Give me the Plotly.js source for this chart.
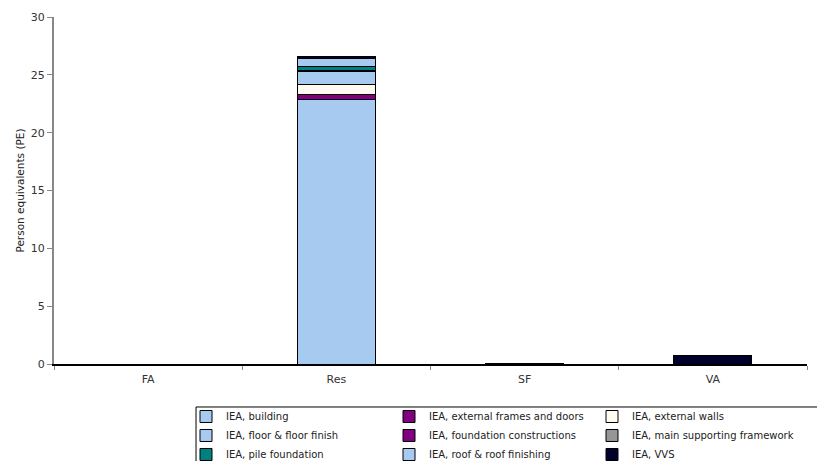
<!DOCTYPE html>
<html>
<head>
<meta charset="utf-8">
<script src="https://cdn.plot.ly/plotly-3.0.1.min.js"></script>
<style>html,body{margin:0;padding:0;background:#fff;}#chart{width:817px;height:461px;}</style>
</head>
<body>
<div id="chart"></div>
<script>
var categories = ['FA', 'Res', 'SF', 'VA'];
var seriesNames = ['IEA, building', 'IEA, external frames and doors', 'IEA, external walls',
  'IEA, floor & floor finish', 'IEA, foundation constructions', 'IEA, main supporting framework',
  'IEA, pile foundation', 'IEA, roof & roof finishing', 'IEA, VVS'];
var building    = [0, 22.9, 0, 0];
var extFrames   = [0, 0.4, 0, 0];
var extWalls    = [0, 0.9, 0, 0];
var floorFinish = [0, 1.05, 0, 0];
var foundation  = [0, 0.05, 0, 0];
var mainSupport = [0, 0.1, 0, 0];
var pile        = [0, 0.35, 0, 0];
var roof        = [0, 0.65, 0, 0];
var vvs         = [0, 0.15, 0.08, 0.75];
var seriesValues = [building, extFrames, extWalls, floorFinish, foundation, mainSupport, pile, roof, vvs];
var colors = ['#A6CAF0', '#800080', '#FFFBF0', '#A6CAF0', '#800080', '#969696', '#008080', '#A6CAF0', '#00002a'];

var traces = seriesNames.map(function(n, i) {
  return {
    type: 'bar', name: n, x: categories, y: seriesValues[i],
    marker: {color: colors[i], line: {color: '#000', width: 1}}
  };
});

var FONT = 'DejaVu Sans, Arial, sans-serif';
var layout = {
  width: 817, height: 461,
  margin: {l: 54, r: 10, t: 17, b: 97, autoexpand: false},
  paper_bgcolor: '#fff', plot_bgcolor: '#fff',
  barmode: 'stack', bargap: 0.585,
  font: {family: FONT, size: 10, color: '#222'},
  xaxis: {
    showline: true, linecolor: '#000', linewidth: 2,
    ticks: 'outside', tickson: 'boundaries', ticklen: 4, tickcolor: '#888', tickwidth: 1,
    showgrid: false, zeroline: false, ticklabelstandoff: 4,
    tickfont: {family: FONT, size: 11, color: '#333'}
  },
  yaxis: {
    range: [0, 30], dtick: 5, showgrid: false, zeroline: false,
    showline: true, linecolor: '#888', linewidth: 2,
    ticks: 'outside', ticklen: 5, tickcolor: '#888',
    tickfont: {family: FONT, size: 11, color: '#333'},
    title: {text: 'Person equivalents (PE)', font: {family: FONT, size: 10.5, color: '#222'}, standoff: 4}
  },
  shapes: [{
    type: 'rect', xref: 'paper', yref: 'paper',
    x0: 0.1886, x1: 1.05, y0: -0.1239, y1: -0.4,
    line: {color: '#000', width: 1}, fillcolor: 'rgba(0,0,0,0)', layer: 'above'
  }],
  showlegend: true,
  legend: {
    orientation: 'h', traceorder: 'normal',
    x: 0.1753, xanchor: 'left', y: -0.1095, yanchor: 'top',
    entrywidth: 158, entrywidthmode: 'pixels',
    borderwidth: 0, bgcolor: 'rgba(0,0,0,0)',
    font: {family: FONT, size: 10, color: '#222'}
  }
};

Plotly.newPlot('chart', traces, layout, {displayModeBar: false, staticPlot: true});
</script>
</body>
</html>
